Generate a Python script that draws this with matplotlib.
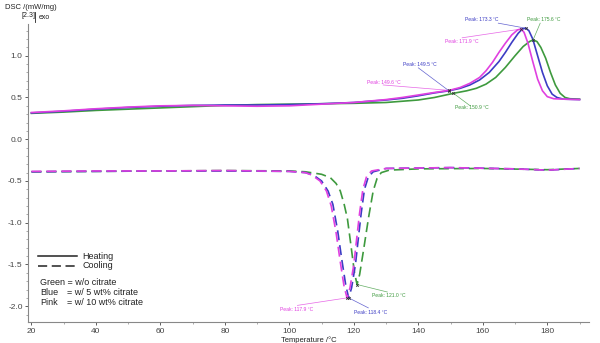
import matplotlib.pyplot as plt
from matplotlib.ticker import MultipleLocator

plt.rcParams['font.family'] = ['Liberation Sans', 'DejaVu Sans']

# heating scans (solid)
t_heat_blue = [20, 30, 40, 50, 60, 70, 80, 90, 100, 110, 120, 130, 135, 140, 145, 149.5, 153, 156, 159, 162,
               165, 167, 169, 171, 172.3, 173.3, 174.3, 175.5, 177, 178.5, 180, 181.5, 183, 185, 190]
dsc_heat_blue = [0.315, 0.335, 0.36, 0.38, 0.395, 0.405, 0.41, 0.41, 0.415, 0.425, 0.44, 0.47, 0.49, 0.52, 0.555,
                 0.58, 0.61, 0.65, 0.71, 0.80, 0.93, 1.04, 1.16, 1.27, 1.32, 1.33, 1.30, 1.20, 1.00, 0.80, 0.64,
                 0.54, 0.50, 0.48, 0.475]
t_heat_pink = [20, 30, 40, 50, 60, 70, 80, 90, 100, 110, 120, 130, 135, 140, 145, 149.6, 153, 156, 159, 161,
               163, 165, 167, 169, 170.8, 171.9, 172.8, 174, 175.5, 177, 178.5, 180, 182, 185, 190]
dsc_heat_pink = [0.32, 0.34, 0.365, 0.385, 0.40, 0.405, 0.40, 0.395, 0.40, 0.42, 0.44, 0.475, 0.50, 0.53, 0.56,
                 0.585, 0.62, 0.67, 0.74, 0.82, 0.92, 1.04, 1.15, 1.25, 1.31, 1.32, 1.28, 1.15, 0.93, 0.72,
                 0.58, 0.51, 0.485, 0.48, 0.475]
t_heat_green = [20, 30, 40, 50, 60, 70, 80, 90, 100, 110, 120, 130, 135, 140, 145, 150.9, 155, 158, 161, 164,
                167, 170, 172.5, 174.5, 175.6, 176.8, 178, 179.5, 181, 182.5, 184, 185.5, 187, 190]
dsc_heat_green = [0.31, 0.325, 0.345, 0.36, 0.375, 0.39, 0.405, 0.415, 0.42, 0.425, 0.43, 0.44, 0.455, 0.47,
                  0.50, 0.55, 0.58, 0.61, 0.66, 0.74, 0.86, 1.00, 1.11, 1.17, 1.19, 1.17, 1.10, 0.97, 0.80,
                  0.65, 0.55, 0.50, 0.485, 0.48]

# cooling scans (dashed)
t_cool_blue = [20, 40, 60, 80, 100, 105, 107.5, 110, 112, 113.5, 115, 116.3, 117.5, 118.4, 119.3, 120.5, 121.5,
               122.3, 123.3, 124.5, 126, 130, 150, 170, 180, 190]
dsc_cool_blue = [-0.39, -0.385, -0.38, -0.38, -0.385, -0.40, -0.43, -0.50, -0.62, -0.78, -1.10, -1.45, -1.75,
                 -1.90, -1.78, -1.50, -1.15, -0.88, -0.60, -0.45, -0.39, -0.35, -0.34, -0.355, -0.37, -0.35]
t_cool_pink = [20, 40, 60, 80, 100, 105, 107, 109.5, 111.5, 113, 114.5, 115.8, 117, 117.9, 118.8, 120, 121,
               121.8, 122.8, 124, 125.5, 130, 150, 170, 180, 190]
dsc_cool_pink = [-0.385, -0.38, -0.38, -0.375, -0.385, -0.40, -0.43, -0.50, -0.62, -0.80, -1.12, -1.47, -1.77,
                 -1.90, -1.78, -1.50, -1.15, -0.88, -0.60, -0.44, -0.38, -0.35, -0.34, -0.355, -0.37, -0.35]
t_cool_green = [20, 40, 60, 80, 100, 105, 110, 112.7, 114.5, 115.8, 117, 118, 119.2, 120.2, 121, 121.8, 123,
                124.6, 126, 127.2, 128.5, 131, 140, 160, 180, 190]
dsc_cool_green = [-0.39, -0.385, -0.38, -0.375, -0.38, -0.39, -0.42, -0.46, -0.53, -0.62, -0.78, -0.95, -1.30,
                  -1.60, -1.74, -1.62, -1.33, -0.93, -0.62, -0.47, -0.40, -0.37, -0.355, -0.35, -0.365, -0.35]

green = '#3e9a3e'
blue = '#3c3cc4'
pink = '#e040e0'

# peaks: (temperature, curve, colour, label position, line end)
peaks = [
    (173.3, t_heat_blue, dsc_heat_blue, blue, (154.6, 1.43), (164.8, 1.39)),
    (171.9, t_heat_pink, dsc_heat_pink, pink, (148.4, 1.17), (153.6, 1.215)),
    (175.6, t_heat_green, dsc_heat_green, green, (173.8, 1.43), (177.8, 1.39)),
    (149.5, t_heat_blue, dsc_heat_blue, blue, (135.3, 0.89), (140.0, 0.855)),
    (149.6, t_heat_pink, dsc_heat_pink, pink, (124.2, 0.675), (129.1, 0.65)),
    (150.9, t_heat_green, dsc_heat_green, green, (151.5, 0.375), (156.1, 0.40)),
    (121.0, t_cool_green, dsc_cool_green, green, (125.7, -1.87), (130.4, -1.83)),
    (118.4, t_cool_blue, dsc_cool_blue, blue, (120.2, -2.07), (124.5, -2.02)),
    (117.9, t_cool_pink, dsc_cool_pink, pink, (97.2, -2.035), (102.5, -1.99)),
]

fig = plt.figure(figsize=(6, 3.43), dpi=100)
ax = fig.add_axes([0.047, 0.061, 0.935, 0.869])

ax.plot(t_heat_green, dsc_heat_green, color=green, lw=1.2)
ax.plot(t_heat_blue, dsc_heat_blue, color=blue, lw=1.2)
ax.plot(t_heat_pink, dsc_heat_pink, color=pink, lw=1.2)
ax.plot(t_cool_green, dsc_cool_green, color=green, lw=1.2, dashes=(6, 3))
ax.plot(t_cool_blue, dsc_cool_blue, color=blue, lw=1.2, dashes=(6, 3))
ax.plot(t_cool_pink, dsc_cool_pink, color=pink, lw=1.2, dashes=(6, 3))

for tp, ts, ys, col, txt_xy, line_end in peaks:
    yp = ys[ts.index(tp)]
    ax.plot([tp, line_end[0]], [yp, line_end[1]], color=col, lw=0.5, alpha=0.8, clip_on=False)
    ax.plot(tp, yp, marker='x', ms=1.8, mew=0.6, color='#333333', clip_on=False)
    ax.text(txt_xy[0], txt_xy[1], 'Peak: %.1f °C' % tp, color=col, fontsize=3.6, va='center',
            clip_on=False)

ax.set_xlim(19, 193)
ax.set_ylim(-2.19, 1.38)
ax.xaxis.set_major_locator(MultipleLocator(20))
ax.xaxis.set_minor_locator(MultipleLocator(10))
ax.yaxis.set_major_locator(MultipleLocator(0.5))
ax.yaxis.set_minor_locator(MultipleLocator(0.1))
ax.yaxis.set_major_formatter(plt.FuncFormatter(lambda v, p: '%.1f' % v))
ax.tick_params(labelsize=6, length=2.5, width=0.6, colors='#444444', pad=1.5)
ax.tick_params(which='minor', length=1.5, width=0.5, colors='#888888')
for s in ['top', 'right']:
    ax.spines[s].set_visible(False)
for s in ['left', 'bottom']:
    ax.spines[s].set_color('#888888')
    ax.spines[s].set_linewidth(0.8)

ax.set_xlabel('Temperature /°C', fontsize=5.5, labelpad=1, color='#222222')

fig.text(0.008, 0.978, 'DSC /(mW/mg)', fontsize=5.5, va='center', color='#222222')
fig.text(0.036, 0.955, '[2.3]', fontsize=5, va='center', color='#222222')
fig.text(0.065, 0.948, 'exo', fontsize=5, va='center', color='#222222')
fig.add_artist(plt.Line2D([0.058, 0.058], [0.935, 0.965], color='#222222', lw=0.6))

# legend block
ax.plot([22, 34], [-1.40, -1.40], color='#222222', lw=1.1)
ax.plot([22, 34], [-1.515, -1.515], color='#222222', lw=1.1, dashes=(6, 3))
ax.text(35.8, -1.40, 'Heating', fontsize=6.5, va='center', color='#222222')
ax.text(35.8, -1.515, 'Cooling', fontsize=6.5, va='center', color='#222222')
ax.text(22.8, -1.72, 'Green = w/o citrate', fontsize=6.5, va='center', color='#222222')
ax.text(22.8, -1.84, 'Blue', fontsize=6.5, va='center', color='#222222')
ax.text(22.8, -1.96, 'Pink', fontsize=6.5, va='center', color='#222222')
ax.text(31.0, -1.84, '= w/ 5 wt% citrate', fontsize=6.5, va='center', color='#222222')
ax.text(31.0, -1.96, '= w/ 10 wt% citrate', fontsize=6.5, va='center', color='#222222')

fig.savefig('out.png', dpi=100)
